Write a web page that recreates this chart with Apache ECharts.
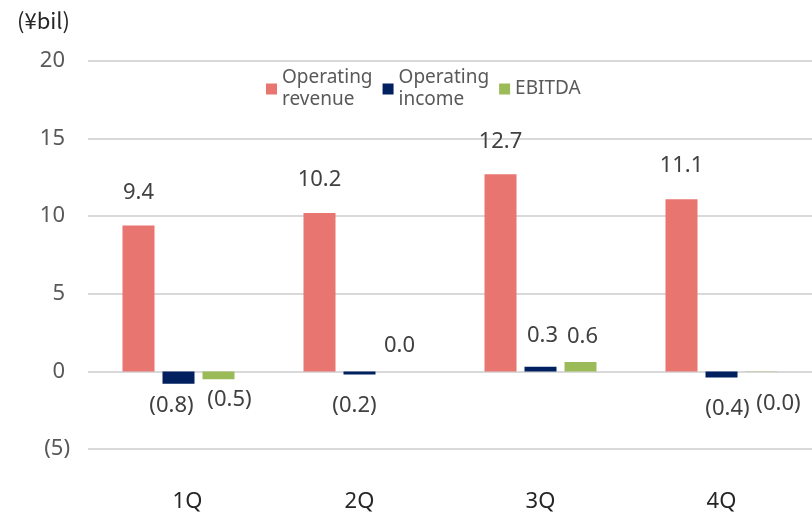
<!DOCTYPE html>
<html>
<head>
<meta charset="utf-8">
<script src="https://cdn.jsdelivr.net/npm/echarts@6/dist/echarts.min.js"></script>
<style>
  html, body { margin: 0; padding: 0; background: #fff; }
  #chart { width: 812px; height: 519px; }
</style>
</head>
<body>
<div id="chart"></div>
<script>
// Quarterly results, in billions of yen
const quarters = ['1Q', '2Q', '3Q', '4Q'];
const operatingRevenue = [9.4, 10.2, 12.7, 11.1];
const operatingIncome = [-0.8, -0.2, 0.3, -0.4];
const ebitda = [-0.5, 0.0, 0.6, -0.02];
const yTicks = { min: -5, max: 20, step: 5 };

// Hand-placed label nudges so neighbouring labels do not collide
const incomeLabelNudge = [
  { distance: 10, offset: [-7, 0] },
  { distance: 19, offset: [-5, 0] },
  { distance: 19, offset: [2, 0] },
  { distance: 19, offset: [6, 0] }
];
const ebitdaLabelNudge = [
  { distance: 9, offset: [11, 0] },
  { distance: 14, offset: [0, 0] },
  { distance: 13, offset: [2, 0] },
  { distance: 20, offset: [17, 0] }
];

const FONT = '"Noto Sans", sans-serif';

function fmt(v) {
  const s = Math.abs(v).toFixed(1);
  return v < 0 ? '(' + s + ')' : s;
}

function withLabels(values, nudges) {
  return values.map((v, i) => {
    const n = nudges ? nudges[i] : { distance: 21, offset: [0, 0] };
    return {
      value: v,
      label: {
        position: v < 0 ? 'bottom' : 'top',
        distance: n.distance,
        offset: n.offset
      }
    };
  });
}

const labelStyle = {
  show: true,
  formatter: p => fmt(p.value),
  color: '#404040',
  fontFamily: FONT,
  fontSize: 22,
  lineHeight: 24
};

const chart = echarts.init(document.getElementById('chart'), null, { renderer: 'canvas' });

chart.setOption({
  animation: false,
  backgroundColor: '#ffffff',
  graphic: [{
    type: 'text',
    left: 17,
    top: 10,
    style: {
      text: '(¥bil)',
      fill: '#262626',
      font: '22px "Noto Sans CJK JP", "Noto Sans", sans-serif'
    }
  }],
  legend: {
    left: 266,
    top: 67,
    padding: 0,
    itemWidth: 11,
    itemHeight: 11,
    itemGap: 10,
    icon: 'rect',
    textStyle: {
      color: '#595959',
      fontFamily: FONT,
      fontSize: 19,
      lineHeight: 22
    },
    data: ['Operating\nrevenue', 'Operating\nincome', 'EBITDA']
  },
  grid: { left: 88, right: 0, top: 61, bottom: 70, containLabel: false },
  xAxis: {
    type: 'category',
    data: quarters.map((q, i) => i === 0
      ? { value: q, textStyle: { padding: [0, 0, 0, 18] } }
      : q),
    position: 'bottom',
    axisLine: { show: false },
    axisTick: { show: false },
    axisLabel: {
      margin: 42,
      color: '#262626',
      fontFamily: FONT,
      fontSize: 22
    }
  },
  yAxis: {
    type: 'value',
    min: yTicks.min,
    max: yTicks.max,
    interval: yTicks.step,
    axisLine: { show: false },
    axisTick: { show: false },
    splitLine: { lineStyle: { color: '#d9d9d9', width: 2 } },
    axisLabel: {
      margin: 18,
      formatter: v => v < 0 ? '{neg|(' + Math.abs(v) + ')}' : '{pos|' + v + '}',
      rich: {
        pos: { color: '#595959', fontFamily: FONT, fontSize: 22, padding: [0, 5, 0, 0] },
        neg: { color: '#595959', fontFamily: FONT, fontSize: 22 }
      }
    }
  },
  series: [
    {
      name: 'Operating\nrevenue',
      type: 'bar',
      barWidth: 32,
      barGap: '25%',
      itemStyle: { color: '#E97571' },
      label: labelStyle,
      data: withLabels(operatingRevenue)
    },
    {
      name: 'Operating\nincome',
      type: 'bar',
      barWidth: 32,
      barGap: '25%',
      itemStyle: { color: '#002060' },
      label: labelStyle,
      data: withLabels(operatingIncome, incomeLabelNudge)
    },
    {
      name: 'EBITDA',
      type: 'bar',
      barWidth: 32,
      barGap: '25%',
      itemStyle: { color: '#9BBB59' },
      label: labelStyle,
      data: withLabels(ebitda, ebitdaLabelNudge)
    }
  ]
});
</script>
</body>
</html>
